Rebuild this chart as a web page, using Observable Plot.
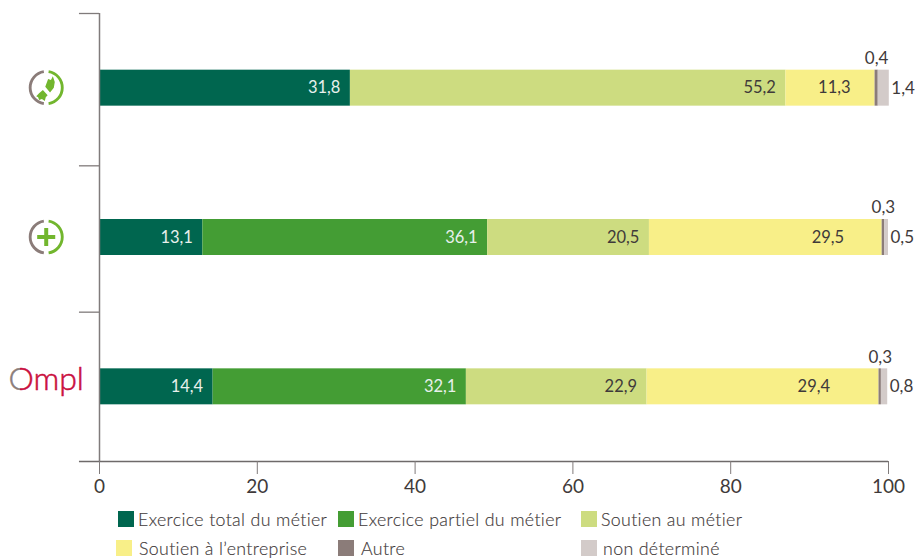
<!DOCTYPE html>
<html lang="fr">
<head>
<meta charset="utf-8">
<script src="https://cdn.jsdelivr.net/npm/d3@7"></script>
<script src="https://cdn.jsdelivr.net/npm/@observablehq/plot@0.6"></script>
<style>
html,body{margin:0;padding:0;background:#fff;overflow:hidden;width:915px;height:558px}
svg{display:block}
#legend{position:relative;display:grid;grid-template-columns:220px 243px auto;grid-auto-rows:29px;padding-left:118px;margin-top:6px;
 font:300 17.8px Lato,sans-serif;color:#3f3a3a;letter-spacing:.35px;-webkit-text-stroke:.15px #3f3a3a}
#legend div{display:flex;align-items:center;gap:4px;white-space:nowrap;height:16px}
#legend div:nth-child(4){margin-left:-2px;gap:7px}
#legend div:nth-child(5){gap:7px}
#legend div:nth-child(6){gap:6px}
#legend i{display:block;width:16px;height:16px;flex:none}
</style>
</head>
<body>
<div id="chart"></div>
<div id="legend"></div>
<script>
const categories = ["Exercice total du métier","Exercice partiel du métier","Soutien au métier","Soutien à l’entreprise","Autre","non déterminé"];
const colors = ["#00664f","#449d34","#cddc80","#f8ef88","#8b7c79","#d3cbc9"];
const textColors = ["#e8f0ec","#e8f0ec","#3f3a3a","#3f3a3a","#3f3a3a","#3f3a3a"];
const rows = ["icone1","icone2","Ompl"];
const rowCentres = [2.5,1.5,0.5];
const rowTicks = [0,1,1.98,3];
const xTicks = [0,20,40,60,80,100];
const values = [
  [31.8,0,55.2,11.3,0.4,1.4],
  [13.1,36.1,20.5,29.5,0.3,0.5],
  [14.4,32.1,22.9,29.4,0.3,0.8]
];
const yellowLabelInset = [24.5,38,49];
const halfBar = 0.1205;
const axisX0 = -2.54;
const iconX = -6.69;
const logoX = -11.54;

const grey="#8b7c79", lime="#72b62e";
function ring(inner){
  return "data:image/svg+xml;utf8,"+encodeURIComponent(
  `<svg xmlns="http://www.w3.org/2000/svg" viewBox="0 0 40 40">
   <path d="M17.5 3.2A17 17 0 0 0 17.5 36.8" fill="none" stroke="${grey}" stroke-width="3"/>
   <path d="M22.5 3.2A17 17 0 0 1 22.5 36.8" fill="none" stroke="${lime}" stroke-width="3"/>${inner}</svg>`);
}
const plus = `<path d="M20 10.5V29.5M10.5 20H29.5" stroke="${lime}" stroke-width="4.2" fill="none"/>`;
const hands = `<path d="M22 11l3 1 2-4 2 6-1 6-4 5-5-6z" fill="${lime}"/><path d="M16.5 22.5l5 5.5-2 2-1 4-3-2-3 1-1-3-2-1 3-3z" fill="${lime}"/>`;
const icons = [
  {src:ring(hands), y:rowCentres[0], dy:-5.5},
  {src:ring(plus), y:rowCentres[1], dy:-2}
];

const cells = [];
values.forEach((vals,r)=>{
  let c=0;
  vals.forEach((v,k)=>{
    if(v>0) cells.push({row:rows[r],r,y:rowCentres[r],k,cat:categories[k],v,x1:c,x2:c+v,label:v.toFixed(1).replace(".",",")});
    c+=v;
  });
});
const plain = cells.filter(d=>d.k<3), yellow = cells.filter(d=>d.k===3), autre = cells.filter(d=>d.k===4), nd = cells.filter(d=>d.k===5);

const plot = Plot.plot({
  width:915, height:505,
  marginLeft:99, marginRight:27, marginTop:13, marginBottom:44,
  style:{fontFamily:"Lato,sans-serif",background:"transparent",color:"#3f3a3a"},
  x:{domain:[0,100],label:null},
  y:{domain:[0,3],label:null,axis:null},
  marks:[
    () => { const s=d3.create("svg:defs");
      const g=s.append("linearGradient").attr("id","ompl").attr("x1","0").attr("x2","1").attr("y1","0").attr("y2","0");
      g.append("stop").attr("offset","0.15").attr("stop-color",grey);
      g.append("stop").attr("offset","0.15").attr("stop-color","#c8103c");
      return s.node(); },
    Plot.rect(cells,{x1:"x1",x2:"x2",y1:d=>d.y-halfBar,y2:d=>d.y+halfBar,fill:d=>colors[d.k]}),
    Plot.ruleX([0],{y1:0,y2:3,stroke:"#807b7b",strokeWidth:1.5}),
    Plot.ruleY(rowTicks.slice(1),{x1:axisX0,x2:0,stroke:"#807b7b",strokeWidth:1.3}),
    Plot.ruleY([0],{x1:axisX0,x2:100,stroke:"#6e6a6a",strokeWidth:1.4}),
    Plot.axisX({ticks:xTicks,tickSize:13,tickPadding:5,fontSize:19,stroke:"#807b7b",fill:"#3f3a3a",fontWeight:400,label:null,tickFormat:d=>String(d)}),
    Plot.text(plain,{x:"x2",y:"y",text:"label",textAnchor:"end",dx:-10,fontSize:16.5,fontWeight:400,fill:d=>textColors[d.k]}),
    ...yellow.map(d=>Plot.text([d],{x:"x2",y:"y",text:"label",textAnchor:"end",dx:-yellowLabelInset[d.r],fontSize:16.5,fontWeight:400,fill:"#3f3a3a"})),
    Plot.text(autre,{x:d=>d.x1+d.v/2,y:"y",text:"label",dy:-29.5,fontSize:17,fontWeight:400,fill:"#3f3a3a"}),
    Plot.text(nd,{x:"x2",y:"y",text:"label",textAnchor:"start",dx:2,fontSize:17,fontWeight:400,fill:"#3f3a3a"}),
    Plot.image(icons,{x:()=>iconX,y:"y",dy:"dy",src:"src",width:38,height:38}),
    Plot.text(["Ompl"],{x:()=>logoX,y:()=>rowCentres[2],text:d=>d,textAnchor:"start",dy:-7,fontSize:32,fontWeight:300,fill:"url(#ompl)",stroke:"url(#ompl)",strokeWidth:0.5})
  ]
});
document.getElementById("chart").append(plot);

const legend=document.getElementById("legend");
[0,1,2,3,4,5].forEach(k=>{
  const d=document.createElement("div");
  const sw=document.createElement("i"); sw.style.background=colors[k];
  d.append(sw,document.createTextNode(categories[k]));
  legend.append(d);
});
</script>
</body>
</html>
